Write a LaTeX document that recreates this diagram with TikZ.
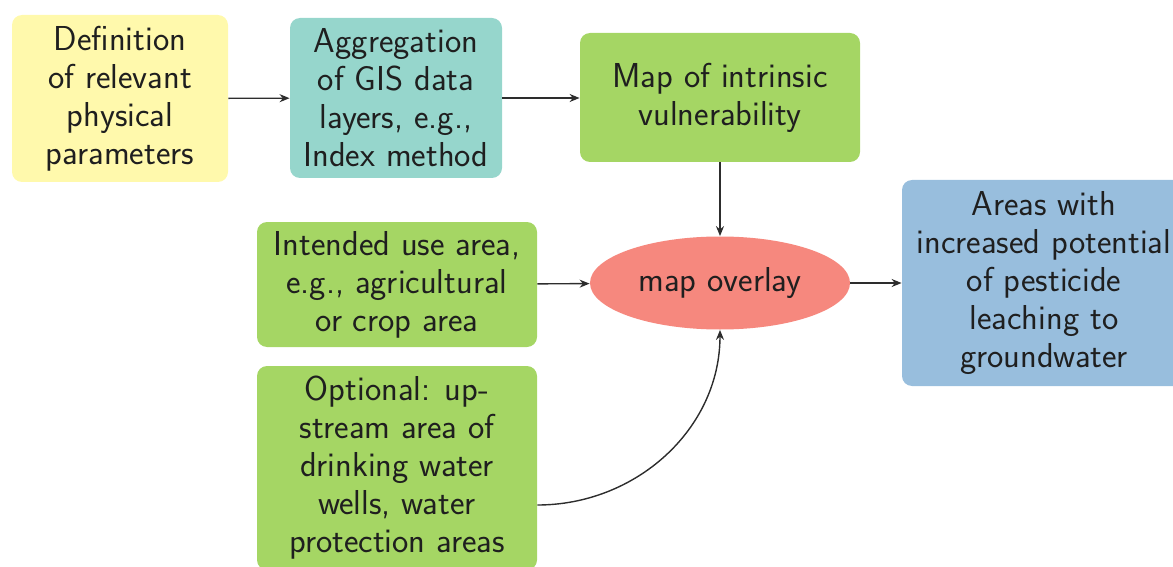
\documentclass[tikz,border=0pt]{standalone}
\usepackage{tikz}
\usetikzlibrary{shapes.geometric,arrows.meta}
\renewcommand{\familydefault}{\sfdefault}
\definecolor{paleyellow}{RGB}{255,249,172}
\definecolor{paleteal}{RGB}{150,214,204}
\definecolor{leafgreen}{RGB}{165,214,100}
\definecolor{salmon}{RGB}{246,136,126}
\definecolor{skyblue}{RGB}{152,190,221}
\definecolor{inkgray}{RGB}{45,45,45}
\tikzset{
  label font/.style={font=\fontsize{17.3}{19}\selectfont, text=black!88},
  box/.style={rounded corners=5pt, inner sep=1pt, align=center, label font},
  flow/.style={draw=inkgray, line width=0.7pt, -{Stealth[length=5pt,width=4pt]}},
}
\begin{document}
\begin{tikzpicture}[x=0.5pt,y=-0.5pt]
  \useasboundingbox (0,0) rectangle (1173,567);
  \clip (0,0) rectangle (1173,567);

  \node[box, fill=paleyellow, minimum width=108pt, minimum height=83.5pt]
    (def) at (120,98.5) {Definition\\of relevant\\physical\\parameters};
  \node[box, fill=paleteal, minimum width=106pt, minimum height=80pt]
    (agg) at (396,98) {Aggregation\\of GIS data\\layers, e.g.,\\Index method};
  \node[box, fill=leafgreen, minimum width=140pt, minimum height=64.5pt]
    (vul) at (720,97.5) {Map of intrinsic\\vulnerability};
  \node[box, fill=leafgreen, minimum width=140pt, minimum height=62.5pt]
    (use) at (397,284.5) {Intended use area,\\e.g., agricultural\\or crop area};
  \node[box, fill=leafgreen, minimum width=140pt, minimum height=102pt]
    (opt) at (397,468) {Optional: up-\\stream area of\\drinking water\\wells, water\\protection areas};
  \node[ellipse, fill=salmon, minimum width=130pt, minimum height=46.5pt, inner sep=0pt,
    label font]
    (ovl) at (720,283) {map overlay};
  \node[box, fill=skyblue, minimum width=142pt, minimum height=103pt]
    (res) at (1044,283) {Areas with\\increased potential\\of pesticide\\leaching to\\groundwater};

  \draw[flow] (def) -- (agg);
  \draw[flow] (agg) -- (agg -| vul.west);
  \draw[flow] (vul) -- (ovl);
  \draw[flow] (use) -- (ovl);
  \draw[flow] (ovl) -- (res);
  \coordinate (optout) at (opt.east |- 0,505);
  \draw[flow] (optout) to[out=0, in=-90] (ovl.south);
\end{tikzpicture}
\end{document}
